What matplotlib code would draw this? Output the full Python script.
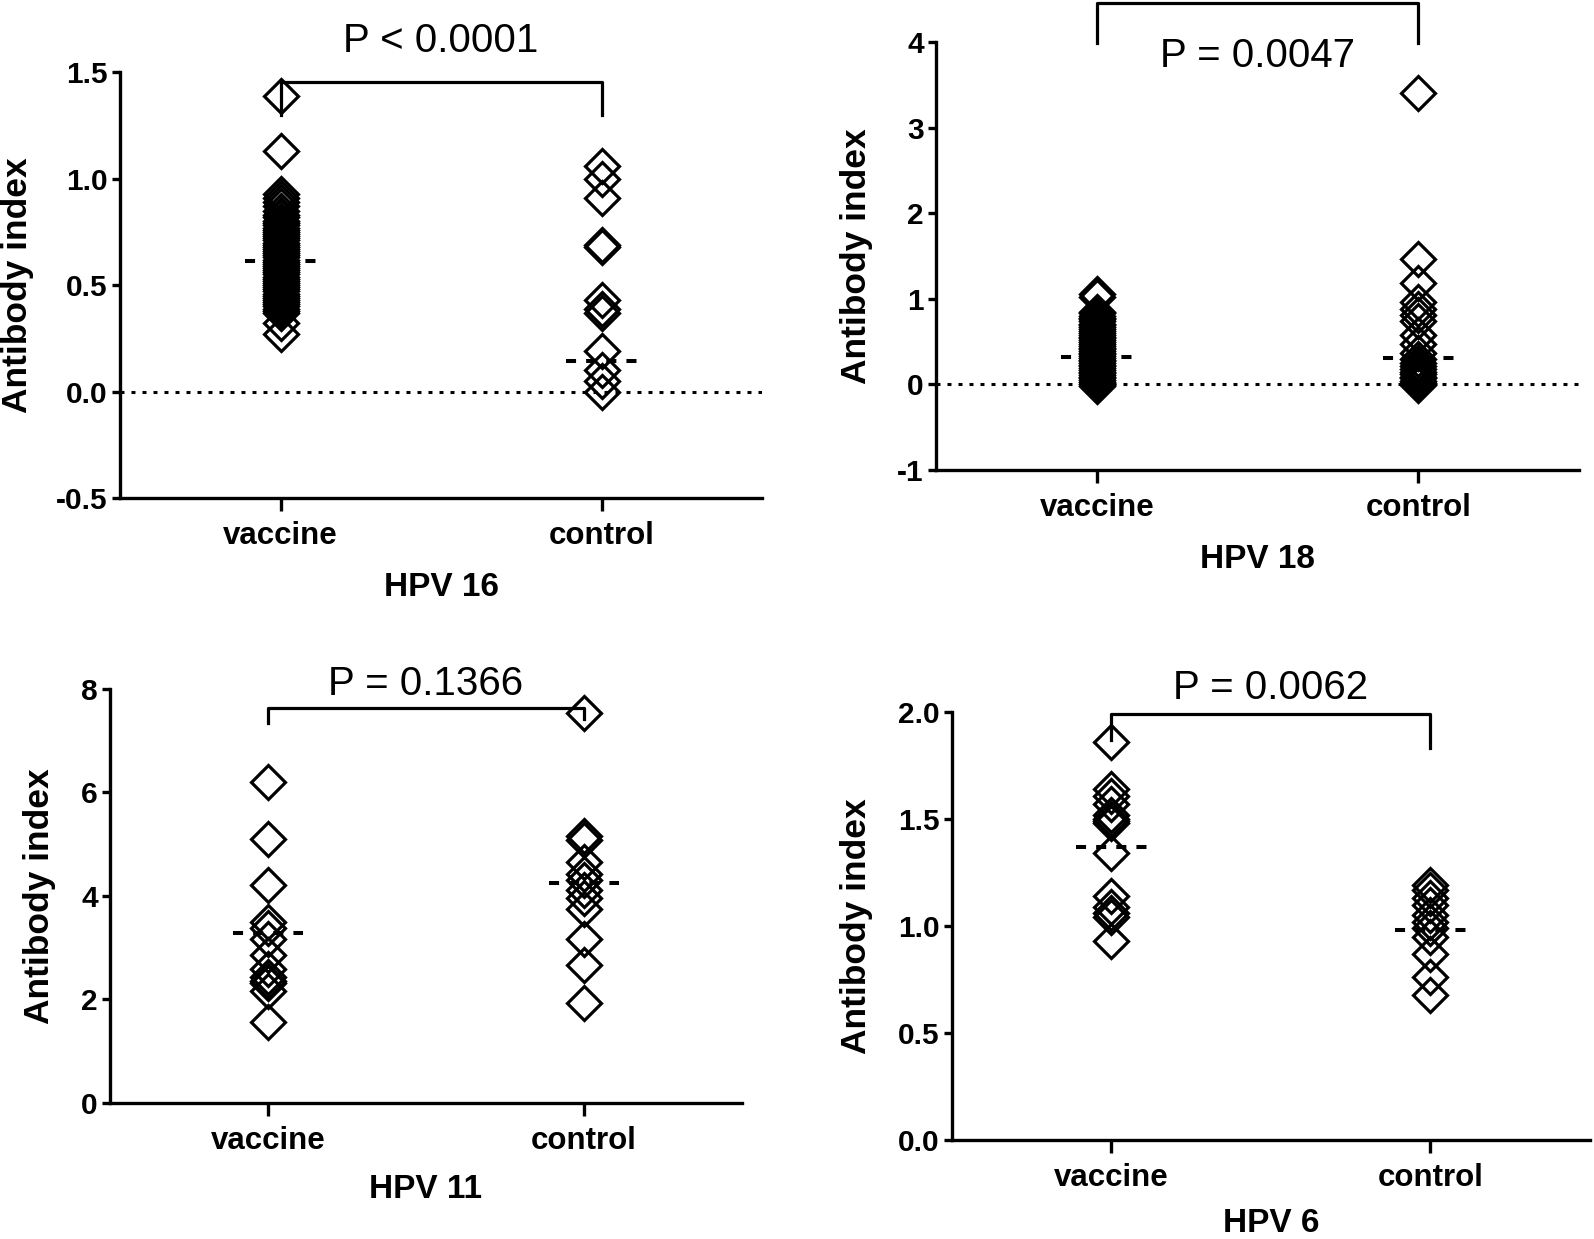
import matplotlib
matplotlib.use("Agg")
import matplotlib.pyplot as plt

plt.rcParams['font.family'] = ['Liberation Sans', 'DejaVu Sans']
plt.rcParams['axes.unicode_minus'] = False

groups = ["vaccine", "control"]

# HPV 16
hpv16_vaccine = [1.39, 1.13, 0.93, 0.91, 0.89, 0.87, 0.85, 0.83, 0.82, 0.80, 0.79, 0.78,
                 0.77, 0.76, 0.75, 0.74, 0.73, 0.72, 0.71, 0.70, 0.69, 0.68, 0.67, 0.66,
                 0.65, 0.64, 0.63, 0.62, 0.61, 0.60, 0.59, 0.58, 0.57, 0.56, 0.55, 0.54,
                 0.53, 0.52, 0.51, 0.50, 0.49, 0.48, 0.47, 0.46, 0.45, 0.44, 0.43, 0.42,
                 0.41, 0.40, 0.39, 0.38, 0.37, 0.32, 0.27]
hpv16_control = [1.06, 1.00, 0.91, 0.69, 0.68, 0.43, 0.39, 0.37, 0.19, 0.10, 0.05, 0.00]
hpv16_means = [0.615, 0.142]

# HPV 18
hpv18_vaccine = [1.06, 1.02, 0.85, 0.83, 0.80, 0.78, 0.76, 0.74, 0.71, 0.69, 0.67, 0.65,
                 0.62, 0.60, 0.58, 0.56, 0.54, 0.52, 0.49, 0.47, 0.45, 0.43, 0.41, 0.39,
                 0.37, 0.35, 0.33, 0.31, 0.29, 0.27, 0.25, 0.23, 0.21, 0.19, 0.17, 0.15,
                 0.13, 0.11, 0.09, 0.07, 0.05, 0.03, 0.01, -0.02]
hpv18_control = [3.41, 1.47, 1.19, 0.96, 0.88, 0.81, 0.74, 0.58, 0.47, 0.37, 0.30, 0.25,
                 0.21, 0.18, 0.15, 0.12, 0.09, 0.07, 0.04, 0.02, 0.00, -0.01]
hpv18_means = [0.32, 0.31]

# HPV 11
hpv11_vaccine = [6.20, 5.10, 4.21, 3.50, 3.39, 3.16, 2.86, 2.59, 2.43, 2.36, 2.32, 2.17, 1.57]
hpv11_control = [7.54, 5.16, 5.08, 4.66, 4.43, 4.31, 4.12, 3.97, 3.74, 3.16, 2.66, 1.93]
hpv11_means = [3.28, 4.25]

# HPV 6
hpv6_vaccine = [1.86, 1.64, 1.61, 1.57, 1.52, 1.50, 1.49, 1.48, 1.34, 1.14, 1.09, 1.06, 1.04, 0.93]
hpv6_control = [1.19, 1.17, 1.13, 1.10, 1.05, 1.02, 0.99, 0.95, 0.87, 0.76, 0.68]
hpv6_means = [1.37, 0.98]


def panel(ax, vac, con, means, title, ylim, yticks, ylabels, pval, p_y,
          br_top, br_left, br_right, zero_line, ylab_x, xlab_y=-0.21):
    for i, vals in enumerate([vac, con]):
        ax.plot([i] * len(vals), vals, linestyle='none', marker='D', ms=17,
                mfc='none', mec='black', mew=2.3, clip_on=False, zorder=3)
        ax.hlines(means[i], i - 0.11, i + 0.11, colors='black', lw=2.9,
                  linestyles=(0, (2.5, 2.5)), zorder=4)
    if zero_line:
        ax.axhline(0, color='black', lw=2.2, linestyle=(0, (1.3, 2.3)), zorder=1)
    # bracket
    ax.plot([0, 0, 1, 1], [br_left, br_top, br_top, br_right], color='black',
            lw=2.3, clip_on=False, zorder=5)
    ax.text(0.5, p_y, pval, ha='center', va='baseline', fontsize=29)

    ax.set_xlim(-0.5, 1.5)
    ax.set_ylim(*ylim)
    ax.set_yticks(yticks)
    ax.set_yticklabels(ylabels)
    ax.set_xticks([0, 1])
    ax.set_xticklabels(groups)
    for s in ['top', 'right']:
        ax.spines[s].set_visible(False)
    for s in ['left', 'bottom']:
        ax.spines[s].set_linewidth(2.4)
    ax.tick_params(axis='y', length=5.8, width=2.4, labelsize=21.5, pad=3)
    ax.tick_params(axis='x', length=9.4, width=2.4, labelsize=22.5, pad=7)
    for lab in ax.get_xticklabels() + ax.get_yticklabels():
        lab.set_fontweight('bold')
    ax.set_xlabel(title, fontsize=24, fontweight='bold')
    ax.xaxis.set_label_coords(0.5, xlab_y)
    ax.xaxis.label.set_va('center')
    ax.set_ylabel("Antibody index", fontsize=25.5, fontweight='bold')
    ax.yaxis.set_label_coords(ylab_x, 0.5)
    ax.yaxis.label.set_va('center')


fig = plt.figure(figsize=(15.94, 12.39), dpi=100)
ax1 = fig.add_axes([0.0753, 0.5981, 0.4028, 0.3436])
ax2 = fig.add_axes([0.5872, 0.6207, 0.4034, 0.3452])
ax3 = fig.add_axes([0.0690, 0.1098, 0.3965, 0.3341])
ax4 = fig.add_axes([0.5972, 0.0799, 0.4003, 0.3454])

panel(ax1, hpv16_vaccine, hpv16_control, hpv16_means, "HPV 16", (-0.5, 1.5),
      [-0.5, 0, 0.5, 1.0, 1.5], ["-0.5", "0.0", "0.5", "1.0", "1.5"],
      "P < 0.0001", 1.595, 1.455, 1.30, 1.30, True, -0.16)
panel(ax2, hpv18_vaccine, hpv18_control, hpv18_means, "HPV 18", (-1, 4),
      [-1, 0, 1, 2, 3, 4], ["-1", "0", "1", "2", "3", "4"],
      "P = 0.0047", 3.71, 4.46, 3.99, 3.99, True, -0.124)
panel(ax3, hpv11_vaccine, hpv11_control, hpv11_means, "HPV 11", (0, 8),
      [0, 2, 4, 6, 8], ["0", "2", "4", "6", "8"],
      "P = 0.1366", 7.876, 7.63, 7.35, 7.42, False, -0.111)
panel(ax4, hpv6_vaccine, hpv6_control, hpv6_means, "HPV 6", (0, 2),
      [0, 0.5, 1.0, 1.5, 2.0], ["0.0", "0.5", "1.0", "1.5", "2.0"],
      "P = 0.0062", 2.059, 1.99, 1.87, 1.83, False, -0.15, xlab_y=-0.195)

fig.savefig("out.png", dpi=100)
